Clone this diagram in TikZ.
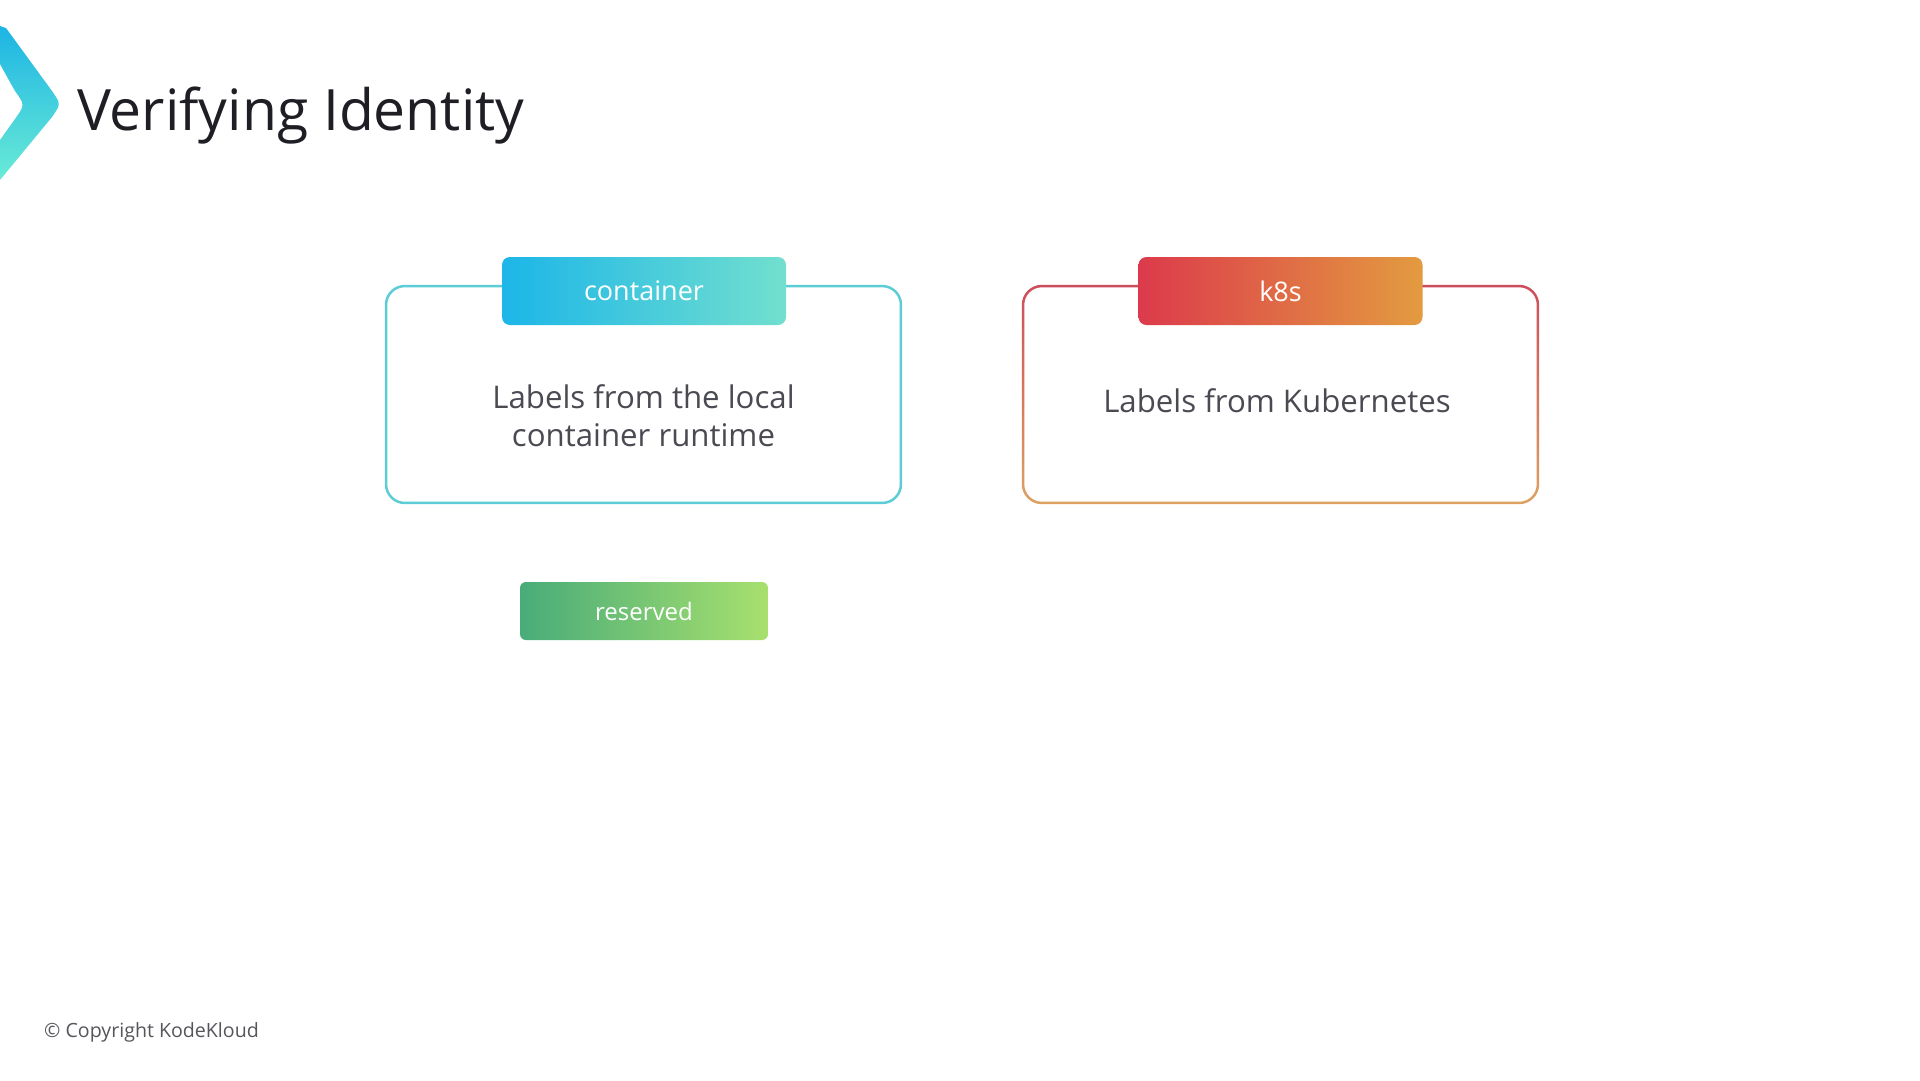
\documentclass[tikz,border=0pt]{standalone}
\usepackage{fontspec}
\setmainfont{Open Sans}
\definecolor{logoA}{HTML}{1DB4E4}
\definecolor{logoB}{HTML}{6AEBD6}
\definecolor{ctabA}{HTML}{1CB6E8}
\definecolor{ctabB}{HTML}{72DFCF}
\definecolor{cborder}{HTML}{5CCDD6}
\definecolor{ktabA}{HTML}{DC3A4B}
\definecolor{ktabB}{HTML}{E39B40}
\definecolor{kborderA}{HTML}{CD4D5C}
\definecolor{kborderB}{HTML}{DDA262}
\definecolor{resA}{HTML}{48AC79}
\definecolor{resB}{HTML}{A8E06E}
\definecolor{bodygray}{HTML}{4A4A52}
\definecolor{titlegray}{HTML}{1E1E24}
\definecolor{copygray}{HTML}{55555C}
\begin{document}
\begin{tikzpicture}[x=1pt,y=-1pt,
  panel/.style={draw=none, minimum width=517pt, minimum height=219pt, inner sep=0pt},
  tabbox/.style={rounded corners=8pt, minimum width=284pt, minimum height=68pt, inner sep=0pt, text=white, font=\fontsize{27}{32}\selectfont},
  bodytext/.style={text=bodygray, align=center, font=\fontsize{31.2}{38}\selectfont},
]
\useasboundingbox[fill=white] (0,0) rectangle (1920,1080);

% logo chevron
\shade[left color=logoA, right color=logoB, shading angle=0]
  (0,26) -- (6,28) -- (52,91) .. controls (61,104) .. (52,117) -- (0,180) -- (0,140)
  -- (15,119) .. controls (25,105) .. (15,91) -- (0,64) -- cycle;

% title
\node[anchor=base west, font=\fontsize{57}{62}\selectfont, text=titlegray, inner sep=0pt] (title) at (77,130) {Verifying Identity};

% container panel
\node[panel] (cbox) at (643.5,394.5) {};
\path[fill=cborder, even odd rule, rounded corners=20pt]
  (cbox.north west) rectangle (cbox.south east)
  [rounded corners=17.5pt] ([shift={(2.5,2.5)}]cbox.north west) rectangle ([shift={(-2.5,-2.5)}]cbox.south east);
\node[tabbox, left color=ctabA, right color=ctabB] (ctab) at (644,291) {container};
\node[bodytext] (ctext) at (643.5,416) {Labels from the local\\container runtime};

% k8s panel
\node[panel] (kbox) at (1280.5,394.5) {};
\shade[top color=kborderA, bottom color=kborderB, even odd rule, rounded corners=20pt]
  (kbox.north west) rectangle (kbox.south east)
  [rounded corners=17.5pt] ([shift={(2.5,2.5)}]kbox.north west) rectangle ([shift={(-2.5,-2.5)}]kbox.south east);
\node[tabbox, left color=ktabA, right color=ktabB] (ktab) at (1280.5,291) {k8s};
\node[bodytext] (ktext) at (1277,401) {Labels from Kubernetes};

% reserved
\node[tabbox, rounded corners=6pt, minimum width=248pt, minimum height=58pt, left color=resA, right color=resB, font=\fontsize{24}{28}\selectfont] (res) at (644,611) {reserved};

% copyright
\node[anchor=west, font=\fontsize{19.6}{23}\selectfont, text=copygray, inner sep=0pt] (copy) at (44,1032) {© Copyright KodeKloud};
\end{tikzpicture}
\end{document}
